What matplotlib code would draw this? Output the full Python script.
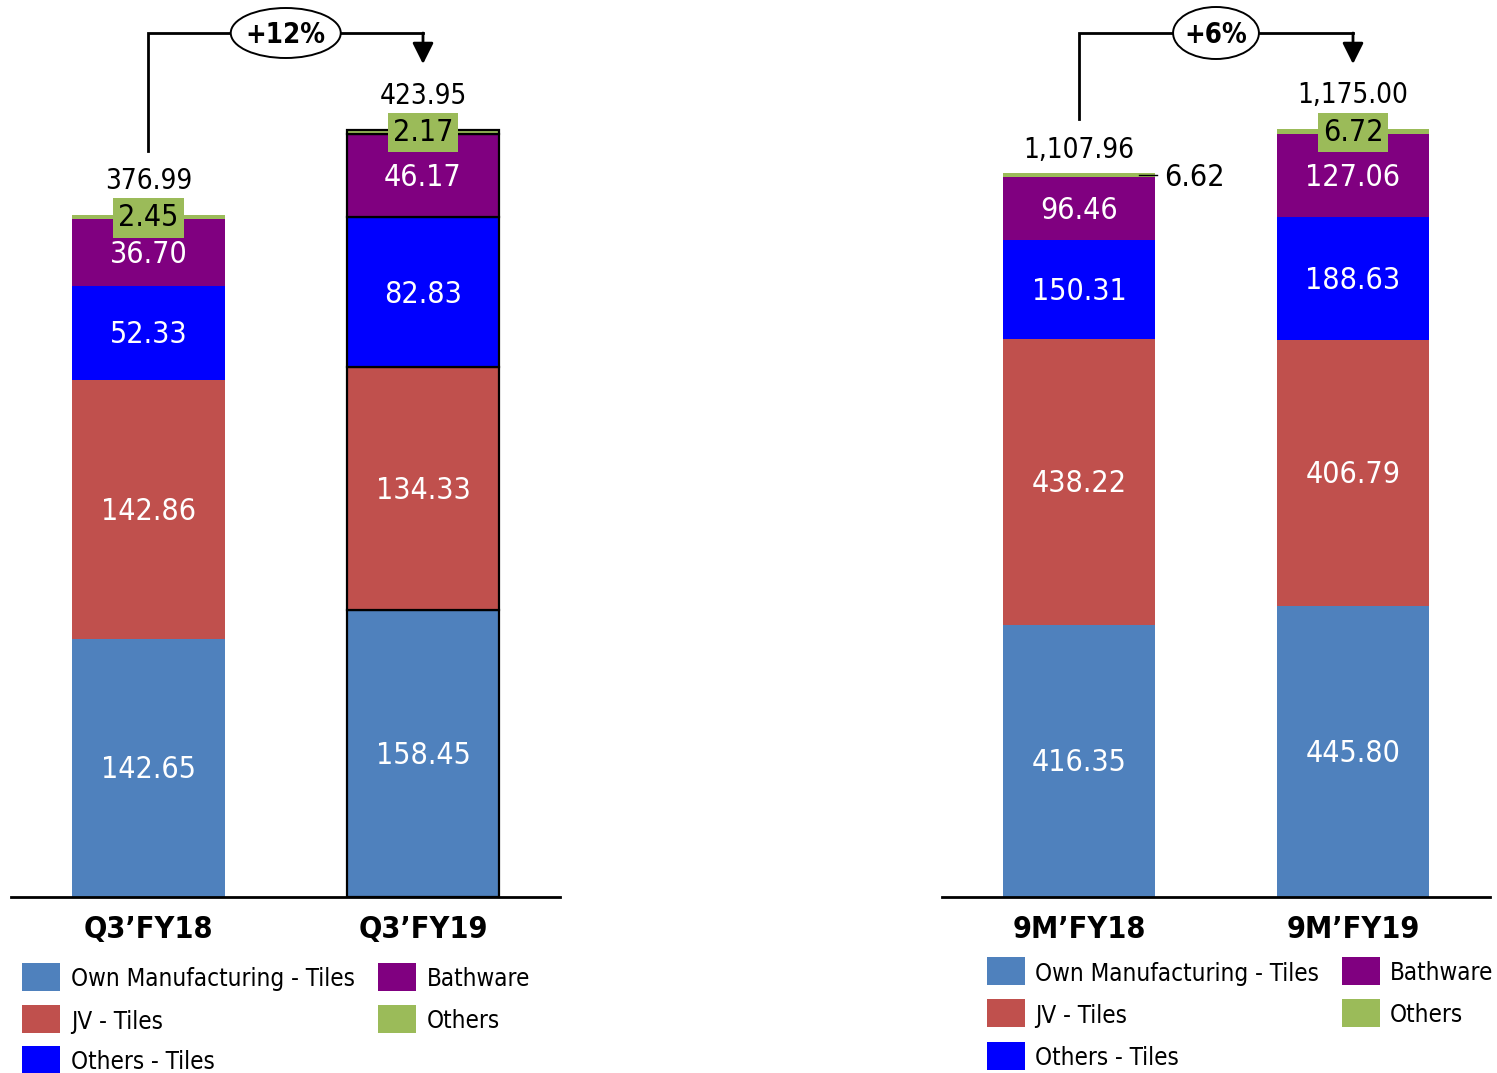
import numpy as np
import matplotlib
matplotlib.use("Agg")
import matplotlib.pyplot as plt
from matplotlib import font_manager as fm
from matplotlib.patches import Ellipse, Rectangle

# ---------------- data ----------------
series = ["Own Manufacturing - Tiles", "JV - Tiles", "Others - Tiles", "Bathware", "Others"]
colors = ["#4F81BD", "#C0504D", "#0000FF", "#800080", "#9BBB59"]

q_periods = ["Q3\u2019FY18", "Q3\u2019FY19"]
q_own = [142.65, 158.45]
q_jv = [142.86, 134.33]
q_other_tiles = [52.33, 82.83]
q_bathware = [36.70, 46.17]
q_others = [2.45, 2.17]
q_totals = [376.99, 423.95]
q_growth = "+12%"

m_periods = ["9M\u2019FY18", "9M\u2019FY19"]
m_own = [416.35, 445.80]
m_jv = [438.22, 406.79]
m_other_tiles = [150.31, 188.63]
m_bathware = [96.46, 127.06]
m_others = [6.62, 6.72]
m_totals = [1107.96, 1175.00]
m_growth = "+6%"

# ---------------- fonts ----------------
has_condensed = any("DejaVuSansCondensed" in f.fname.replace("-", "") for f in fm.fontManager.ttflist)
if has_condensed:
    FONT = dict(family="DejaVu Sans", stretch="condensed")
    k = 1.0
else:
    FONT = dict(family="DejaVu Sans")
    k = 0.9

SEG_FS = 21.8 * k
TOT_FS = 20 * k
CAT_FS = 22 * k
LEG_FS = 17.4 * k
GROW_FS = 19.8 * k

# ---------------- layout ----------------
W, H = 1497, 1073
BASE_Y = 897          # baseline, px from top
SLOT = 274.5          # px per category step
BAR_W = 0.556

fig = plt.figure(figsize=(W / 100, H / 100), dpi=100)


def make_axes(c0, c1, ytop):
    step = c1 - c0
    x0 = c0 - step / 2
    ax = fig.add_axes([x0 / W, (H - BASE_Y) / H, 2 * step / W, BASE_Y / H])
    ax.set_xlim(-0.5, 1.5)
    ax.set_ylim(0, ytop)
    for s in ("left", "right", "top"):
        ax.spines[s].set_visible(False)
    ax.spines["bottom"].set_linewidth(2)
    ax.set_yticks([])
    ax.patch.set_alpha(0)
    return ax


def py(ax, n):
    """pixels -> y data units"""
    return n * ax.get_ylim()[1] / BASE_Y


def px(n, step=SLOT):
    return n / step


def draw_panel(ax, periods, layers, totals, growth, edges, other_style,
               total_gap, bracket_gap, ell_w, ell_h):
    x = np.arange(len(periods))
    bottom = np.zeros(len(periods))
    for li, (vals, col) in enumerate(zip(layers, colors)):
        vals = np.asarray(vals)
        ax.bar(x, vals, BAR_W, bottom=bottom, color=col,
               edgecolor=[e if e else col for e in edges],
               linewidth=[1.6 if e else 0 for e in edges], zorder=2)
        for i, v in enumerate(vals):
            yc = bottom[i] + v / 2
            if li < 4:
                ax.text(x[i], yc - py(ax, 2), f"{v:,.2f}", ha="center", va="center",
                        color="white", fontsize=SEG_FS, zorder=4, **FONT)
            elif other_style[i] == "box":
                ax.text(x[i], yc - py(ax, 1), f"{v:,.2f}", ha="center", va="center",
                        color="black", fontsize=SEG_FS, zorder=4,
                        bbox=dict(boxstyle="square,pad=0.17", fc=col, ec="none"), **FONT)
            else:
                xr = x[i] + BAR_W / 2
                ax.plot([xr - px(16), xr + px(2)], [yc, yc], color="black", lw=1, zorder=4)
                ax.text(xr + px(9), yc - py(ax, 2), f"{v:,.2f}", ha="left", va="center",
                        color="black", fontsize=SEG_FS, zorder=4, **FONT)
        bottom = bottom + vals

    for i, t in enumerate(totals):
        ax.text(x[i], t + py(ax, total_gap[i]), f"{t:,.2f}", ha="center", va="center",
                color="black", fontsize=TOT_FS, zorder=4, **FONT)

    # growth bracket
    y_top = py(ax, BASE_Y - 33)
    y0 = totals[0] + py(ax, bracket_gap)
    y_tip = py(ax, BASE_Y - 64)
    ax.plot([0, 0, 1], [y0, y_top, y_top], color="black", lw=2, zorder=3,
            solid_joinstyle="miter", clip_on=False)
    ax.annotate("", xy=(1, y_tip), xytext=(1, y_top),
                arrowprops=dict(arrowstyle="-|>,head_length=0.8,head_width=0.4",
                                color="black", lw=2, shrinkA=0, shrinkB=0,
                                mutation_scale=16), zorder=3)
    ax.add_patch(Ellipse((0.5, y_top), px(ell_w), py(ax, ell_h), fc="white",
                         ec="black", lw=1.4, zorder=5, clip_on=False))
    ax.text(0.5, y_top - py(ax, 2), growth, ha="center", va="center", fontsize=GROW_FS,
            fontweight="bold", zorder=6, **FONT)

    ax.set_xticks(x)
    ax.set_xticklabels(periods, fontsize=CAT_FS, fontweight="bold", **FONT)
    ax.tick_params(axis="x", length=0, pad=13)


def draw_legend(x_col, y_rows, text_dx):
    order = [(0, 0), (0, 1), (0, 2), (1, 0), (1, 1)]
    for (c, r), name, col in zip(order, series, colors):
        xl = x_col[c]
        yc = y_rows[r]
        fig.patches.append(Rectangle((xl / W, 1 - (yc + 14) / H), 38 / W, 28 / H,
                                     transform=fig.transFigure, fc=col, ec="none"))
        fig.text((xl + text_dx) / W, 1 - (yc + 2.5) / H, name, ha="left", va="center",
                 fontsize=LEG_FS, **FONT)


ax_q = make_axes(148.5, 423.0, BASE_Y / 1.81)
draw_panel(ax_q, q_periods,
           [q_own, q_jv, q_other_tiles, q_bathware, q_others], q_totals, q_growth,
           edges=[None, "black"], other_style=["box", "box"],
           total_gap=[34, 34], bracket_gap=64, ell_w=110, ell_h=50)

ax_m = make_axes(1079.0, 1353.0, BASE_Y / 0.6535)
draw_panel(ax_m, m_periods,
           [m_own, m_jv, m_other_tiles, m_bathware, m_others], m_totals, m_growth,
           edges=[None, None], other_style=["leader", "box"],
           total_gap=[23, 34], bracket_gap=54, ell_w=86, ell_h=52)

draw_legend([22, 378], [976.5, 1019, 1059.5], 49)
draw_legend([987, 1342], [971, 1013, 1055.5], 48)

fig.savefig("out.png", dpi=100, facecolor="white")
